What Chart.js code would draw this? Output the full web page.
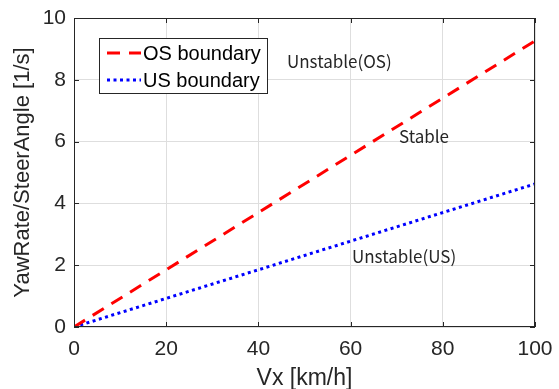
<!DOCTYPE html>
<html>
<head>
<meta charset="utf-8">
<script src="https://cdn.jsdelivr.net/npm/chart.js@4"></script>
<style>
body { margin: 0; background: #fff; }
</style>
</head>
<body>
<canvas id="chart" width="559" height="389"></canvas>
<script>
const speeds = [0, 100];
const osBoundary = [0, 9.26];
const usBoundary = [0, 4.63];
const xTicks = [0, 20, 40, 60, 80, 100];
const yTicks = [0, 2, 4, 6, 8, 10];
const regionLabels = ['Unstable(OS)', 'Stable', 'Unstable(US)'];
const regionX = [46.2, 70.5, 60.3];
const regionY = [8.6, 6.15, 2.27];

const axisColor = '#262626';
const tickFont = { family: 'Liberation Sans, Arial, sans-serif', size: 21 };

function line(ctx, x1, y1, x2, y2) {
    ctx.beginPath();
    ctx.moveTo(x1, y1);
    ctx.lineTo(x2, y2);
    ctx.stroke();
}

// box, inner ticks, region texts and the legend inside the plot
const overlay = {
    id: 'overlay',
    afterDatasetsDraw(chart) {
        const { ctx, chartArea: a, scales: { x, y } } = chart;
        ctx.save();
        ctx.strokeStyle = axisColor;
        ctx.lineWidth = 1;
        ctx.setLineDash([]);
        ctx.strokeRect(a.left + 0.5, a.top + 0.5, a.width - 1, a.height - 1);
        xTicks.forEach(v => {
            const px = Math.round(x.getPixelForValue(v)) + 0.5;
            line(ctx, px, a.bottom, px, a.bottom - 5);
            line(ctx, px, a.top, px, a.top + 5);
        });
        yTicks.forEach(v => {
            const py = Math.round(y.getPixelForValue(v)) + 0.5;
            line(ctx, a.left, py, a.left + 5, py);
            line(ctx, a.right, py, a.right - 5, py);
        });

        ctx.font = '17px "Noto Sans CJK KR", sans-serif';
        ctx.fillStyle = axisColor;
        ctx.textAlign = 'left';
        ctx.textBaseline = 'middle';
        regionLabels.forEach((t, i) => {
            ctx.fillText(t, x.getPixelForValue(regionX[i]), y.getPixelForValue(regionY[i]));
        });

        // legend
        const lx = 99, ly = 38, lw = 168, lh = 55;
        ctx.fillStyle = '#fff';
        ctx.fillRect(lx, ly, lw, lh);
        ctx.strokeStyle = axisColor;
        ctx.strokeRect(lx + 0.5, ly + 0.5, lw, lh);
        ctx.font = '20px "Liberation Sans", Arial, sans-serif';
        chart.data.datasets.forEach((ds, i) => {
            const cy = ly + 15 + i * 27;
            ctx.strokeStyle = ds.borderColor;
            ctx.lineWidth = ds.borderWidth;
            ctx.setLineDash(ds.borderDash);
            line(ctx, lx + 8, cy, lx + 42, cy);
            ctx.setLineDash([]);
            ctx.fillStyle = '#000';
            ctx.fillText(ds.label, lx + 44, cy + 1);
        });
        ctx.restore();
    }
};

new Chart(document.getElementById('chart'), {
    type: 'line',
    data: {
        datasets: [
            {
                label: 'OS boundary',
                data: speeds.map((v, i) => ({ x: v, y: osBoundary[i] })),
                borderColor: '#ff0000',
                borderWidth: 3,
                borderDash: [13, 9],
                pointRadius: 0
            },
            {
                label: 'US boundary',
                data: speeds.map((v, i) => ({ x: v, y: usBoundary[i] })),
                borderColor: '#0000ff',
                borderWidth: 3,
                borderDash: [3, 3.5],
                pointRadius: 0
            }
        ]
    },
    options: {
        responsive: false,
        animation: false,
        layout: { padding: { top: 18, right: 24, left: 0, bottom: 0 } },
        plugins: { legend: { display: false }, tooltip: { enabled: false } },
        scales: {
            x: {
                type: 'linear',
                min: 0,
                max: 100,
                afterFit: s => { s.height = 62; s.paddingRight = 0; s.paddingLeft = 0; },
                afterBuildTicks: s => { s.ticks = xTicks.map(v => ({ value: v })); },
                ticks: { color: axisColor, font: tickFont, padding: 10, maxRotation: 0 },
                grid: { color: '#dedede', drawTicks: false },
                border: { display: false },
                title: { display: true, text: 'Vx [km/h]', color: axisColor, font: { family: 'Liberation Sans, Arial, sans-serif', size: 23 }, padding: { top: 0, bottom: -3 } }
            },
            y: {
                min: 0,
                max: 10,
                afterFit: s => { s.width = 74; s.paddingTop = 0; s.paddingBottom = 0; },
                afterBuildTicks: s => { s.ticks = yTicks.map(v => ({ value: v })); },
                ticks: { color: axisColor, font: tickFont, padding: 8 },
                grid: { color: '#dedede', drawTicks: false },
                border: { display: false },
                title: { display: true, text: 'YawRate/SteerAngle [1/s]', color: axisColor, font: { family: 'Liberation Sans, Arial, sans-serif', size: 22 }, padding: { top: 10, bottom: 0 } }
            }
        }
    },
    plugins: [overlay]
});
</script>
</body>
</html>
